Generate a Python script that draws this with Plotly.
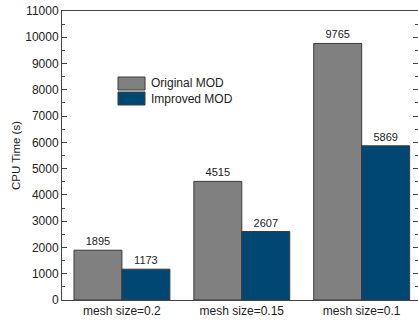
import plotly.graph_objects as go

categories = ["mesh size=0.2", "mesh size=0.15", "mesh size=0.1"]
original_mod = [1895, 4515, 9765]
improved_mod = [1173, 2607, 5869]
series_names = ["Original MOD", "Improved MOD"]
y_ticks = list(range(0, 11001, 1000))
colors = ["#808080", "#004873"]

W, H = 418, 321
ML, MR, MT, MB = 62, 0, 11, 21
pw, ph = W - ML - MR, H - MT - MB

fig = go.Figure()
for name, vals, col in zip(series_names, [original_mod, improved_mod], colors):
    fig.add_trace(go.Bar(
        x=categories, y=vals, name=name,
        marker=dict(color=col, line=dict(color="#3a3a3a", width=1)),
        text=[str(v) for v in vals], textposition="outside",
        textfont=dict(size=11, color="#222"), cliponaxis=False,
        showlegend=False,
    ))

# custom legend: swatches as shapes, labels as annotations
def px2paper(x, y):
    return (x - ML) / pw, 1 - (y - MT) / ph

shapes = []
annotations = []
for i, (name, col) in enumerate(zip(series_names, colors)):
    y0 = 77 + i * 15
    x0p, y0p = px2paper(118, y0)
    x1p, y1p = px2paper(145, y0 + 13)
    shapes.append(dict(type="rect", xref="paper", yref="paper",
                       x0=x0p, x1=x1p, y0=y1p, y1=y0p,
                       fillcolor=col, line=dict(color="#3a3a3a", width=1)))
    tx, ty = px2paper(149, y0 + 6.5)
    annotations.append(dict(xref="paper", yref="paper", x=tx, y=ty,
                            text=name, showarrow=False, xanchor="left",
                            yanchor="middle", font=dict(size=12, color="#222")))

fig.update_layout(
    width=W, height=H,
    margin=dict(l=ML, r=MR, t=MT, b=MB, pad=0),
    paper_bgcolor="white", plot_bgcolor="white",
    barmode="group", bargap=0.2, bargroupgap=0,
    font=dict(family="Liberation Sans, Arial, sans-serif", size=12, color="#222"),
    shapes=shapes, annotations=annotations,
    xaxis=dict(range=[-0.5, 2.47], showline=True, linecolor="#444", linewidth=1,
               mirror=True, ticks="", showgrid=False,
               tickfont=dict(size=12, color="#222")),
    yaxis=dict(range=[0, 11000], tickvals=y_ticks, ticktext=[str(t) for t in y_ticks],
               showline=True, linecolor="#444", linewidth=1, mirror="ticks",
               ticks="inside", ticklen=5, tickcolor="#444", showgrid=False,
               zeroline=False,
               minor=dict(dtick=500, ticks="inside", ticklen=3, tickcolor="#444"),
               tickfont=dict(size=12, color="#222"),
               title=dict(text="CPU Time (s)", font=dict(size=11.5, color="#222"), standoff=2)),
)

fig.write_html("out.html")
